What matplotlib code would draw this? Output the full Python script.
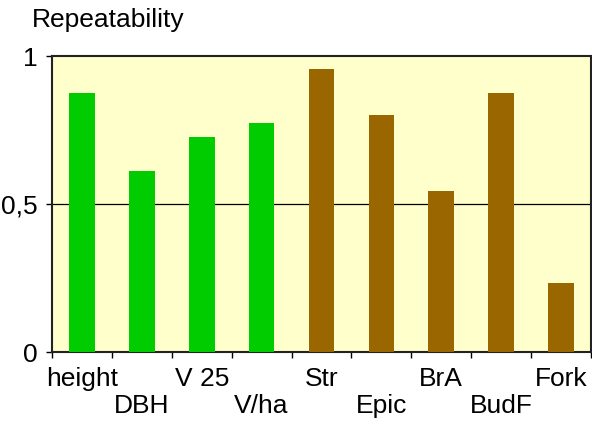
import matplotlib
matplotlib.use("Agg")
import matplotlib.pyplot as plt

categories = ["height", "DBH", "V 25", "V/ha", "Str", "Epic", "BrA", "BudF", "Fork"]
values = [0.875, 0.61, 0.725, 0.775, 0.955, 0.80, 0.545, 0.875, 0.233]
colors = ["#00CC00"] * 4 + ["#996600"] * 5
ytick_vals = [0, 0.5, 1]
ytick_labels = ["0", "0,5", "1"]

plt.rcParams['font.family'] = ['Liberation Sans', 'DejaVu Sans']
fig = plt.figure(figsize=(5.92, 4.25), dpi=100)
ax = fig.add_axes([52/592, (425-352)/425, 539/592, 296/425])
ax.set_facecolor("#FFFFCC")
x = list(range(len(categories)))
ax.bar(x, values, width=0.43, color=colors, zorder=3)
ax.axhline(0.5, color="black", lw=0.9, zorder=2)
ax.set_xlim(-0.5, len(categories) - 0.5)
ax.set_ylim(0, 1)
ax.set_yticks(ytick_vals)
ax.set_yticklabels(ytick_labels, fontsize=19)
ax.tick_params(axis="y", length=4, width=1, pad=6, direction="out")
ax.set_xticks([i - 0.5 for i in range(len(categories) + 1)])
ax.set_xticklabels([])
ax.tick_params(axis="x", which="major", length=4, width=1, direction="out")
ax.set_xticks(x, minor=True)
ax.set_xticklabels([c if i % 2 == 0 else "\n" + c for i, c in enumerate(categories)], minor=True, fontsize=19, linespacing=1.15)
ax.tick_params(axis="x", which="minor", length=0, pad=11)
for s in ax.spines.values():
    s.set_linewidth(1.5)
    s.set_color("#222222")
fig.text(32/592, 1 - 20/425, "Repeatability", fontsize=19, va="center", ha="left")
fig.savefig("out.png", dpi=100)
